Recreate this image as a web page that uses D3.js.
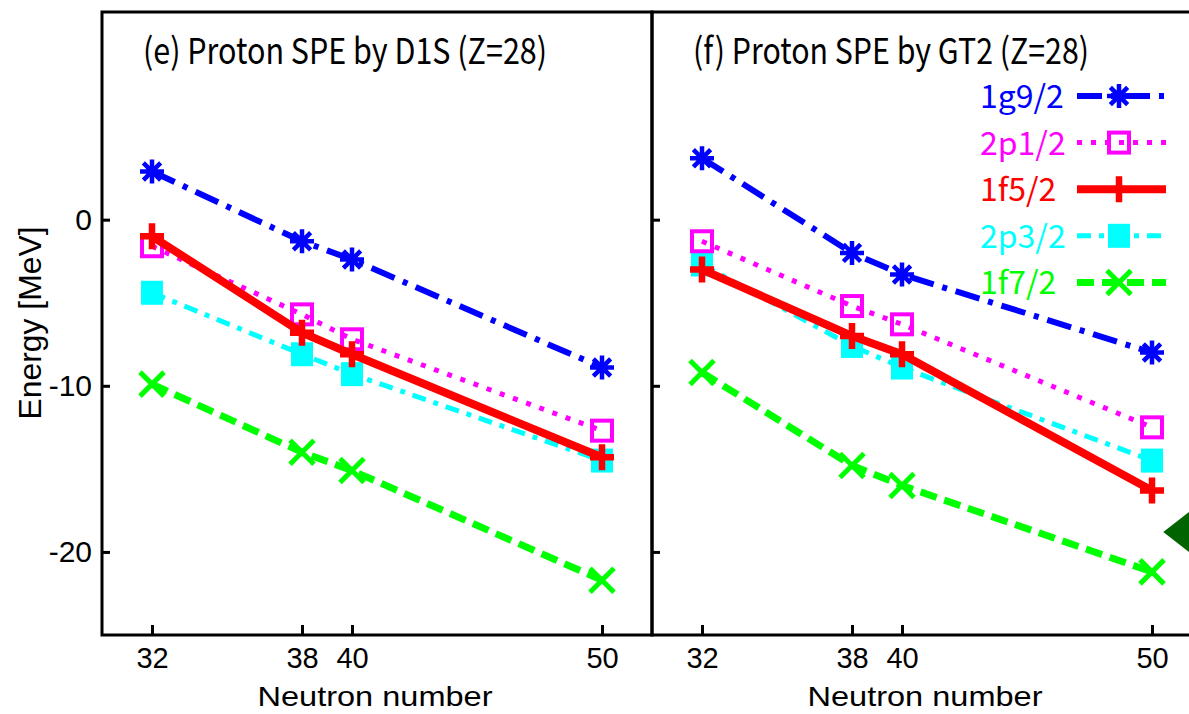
<!DOCTYPE html>
<html>
<head>
<meta charset="utf-8">
<script src="https://cdn.jsdelivr.net/npm/d3@7"></script>
<style>
  body { margin: 0; background: #fff; }
  text { font-family: "Noto Sans CJK JP", "Liberation Sans", sans-serif; }
  .ax text, .axlabel { font-family: "Liberation Sans", Arial, sans-serif; }
</style>
</head>
<body>
<script>
// neutron numbers on the x axis
var neutrons = [32, 38, 40, 50];
var yTicks = [-20, -10, 0];
var orbitals = ["1g9/2", "2p1/2", "1f5/2", "2p3/2", "1f7/2"];

// (e) D1S proton single-particle energies [MeV]
var d1s_1g9 = [2.9, -1.3, -2.4, -8.9];
var d1s_2p1 = [-1.6, -5.7, -7.2, -12.7];
var d1s_1f5 = [-1.0, -6.8, -8.1, -14.3];
var d1s_2p3 = [-4.4, -8.1, -9.3, -14.5];
var d1s_1f7 = [-9.9, -14.0, -15.1, -21.7];

// (f) GT2 proton single-particle energies [MeV]
var gt2_1g9 = [3.7, -2.0, -3.3, -8.0];
var gt2_2p1 = [-1.3, -5.2, -6.3, -12.5];
var gt2_1f5 = [-3.0, -7.0, -8.1, -16.3];
var gt2_2p3 = [-2.7, -7.6, -8.9, -14.5];
var gt2_1f7 = [-9.2, -14.8, -16.0, -21.2];

var titles = ["(e) Proton SPE by D1S (Z=28)", "(f) Proton SPE by GT2 (Z=28)"];

// styles per orbital
var styles = {
  "1g9/2": {color: "#0000ff", width: 6, dash: "25,9,5,9", marker: "asterisk"},
  "2p1/2": {color: "#ff00ff", width: 5, dash: "5,9", marker: "square"},
  "1f5/2": {color: "#ff0000", width: 8, dash: null, marker: "plus"},
  "2p3/2": {color: "#00ffff", width: 5, dash: "14,8,5,8", marker: "filled"},
  "1f7/2": {color: "#00ff00", width: 7, dash: "17,8", marker: "x"}
};

var W = 1189, H = 714;
var svg = d3.select("body").append("svg")
    .attr("width", W)
    .attr("height", H);

var y = d3.scaleLinear().domain([-25, 12.5]).range([635, 12]);

var panels = [
  {x0: 102, x1: 652, title: titles[0], tlen: 404, labels: true,
   series: {"1g9/2": d1s_1g9, "2p1/2": d1s_2p1, "1f5/2": d1s_1f5, "2p3/2": d1s_2p3, "1f7/2": d1s_1f7}},
  {x0: 652, x1: 1202, title: titles[1], tlen: 396, labels: false,
   series: {"1g9/2": gt2_1g9, "2p1/2": gt2_2p1, "1f5/2": gt2_1f5, "2p3/2": gt2_2p3, "1f7/2": gt2_1f7}}
];

// marker drawing
function drawMarker(g, type, cx, cy, color) {
  var r = 12;
  if (type == "asterisk") {
    var a = r * 0.72;
    g.append("path")
      .attr("d", "M" + cx + "," + (cy - r) + "V" + (cy + r) +
                 "M" + (cx - r) + "," + cy + "H" + (cx + r) +
                 "M" + (cx - a) + "," + (cy - a) + "L" + (cx + a) + "," + (cy + a) +
                 "M" + (cx - a) + "," + (cy + a) + "L" + (cx + a) + "," + (cy - a))
      .attr("stroke", color).attr("stroke-width", 4.5).attr("fill", "none");
  } else if (type == "plus") {
    g.append("path")
      .attr("d", "M" + cx + "," + (cy - r - 1) + "V" + (cy + r + 1) +
                 "M" + (cx - r) + "," + cy + "H" + (cx + r))
      .attr("stroke", color).attr("stroke-width", 6.5).attr("fill", "none");
  } else if (type == "x") {
    var b = r;
    g.append("path")
      .attr("d", "M" + (cx - b) + "," + (cy - b) + "L" + (cx + b) + "," + (cy + b) +
                 "M" + (cx - b) + "," + (cy + b) + "L" + (cx + b) + "," + (cy - b))
      .attr("stroke", color).attr("stroke-width", 5).attr("fill", "none");
  } else if (type == "square") {
    g.append("rect")
      .attr("x", cx - r + 2).attr("y", cy - r + 2)
      .attr("width", 2 * r - 4).attr("height", 2 * r - 4)
      .attr("stroke", color).attr("stroke-width", 4).attr("fill", "none");
  } else if (type == "filled") {
    g.append("rect")
      .attr("x", cx - 11).attr("y", cy - 12)
      .attr("width", 22).attr("height", 24)
      .attr("fill", color);
  }
}

var drawOrder = ["1f7/2", "2p3/2", "2p1/2", "1f5/2", "1g9/2"];

panels.forEach(function(p) {
  var x = d3.scaleLinear().domain([30, 52]).range([p.x0, p.x1]);
  var g = svg.append("g");

  // frame
  g.append("rect")
    .attr("x", p.x0).attr("y", y.range()[1])
    .attr("width", p.x1 - p.x0).attr("height", y.range()[0] - y.range()[1])
    .attr("fill", "none").attr("stroke", "#000").attr("stroke-width", 3);

  // x axis (ticks pointing inward)
  var xa = g.append("g")
    .attr("class", "ax")
    .attr("transform", "translate(0," + y.range()[0] + ")")
    .call(d3.axisBottom(x).tickValues(neutrons).tickSize(-10).tickPadding(12)
      .tickFormat(function(d) { return String(d); }));
  xa.select(".domain").remove();
  xa.selectAll("line").attr("stroke-width", 3);
  xa.selectAll("text").attr("font-size", 29).attr("fill", "#000");

  // y axis
  var ya = g.append("g")
    .attr("class", "ax")
    .attr("transform", "translate(" + p.x0 + ",0)")
    .call(d3.axisLeft(y).tickValues(yTicks).tickSize(-8).tickPadding(10)
      .tickFormat(function(d) { return String(d); }));
  ya.select(".domain").remove();
  ya.selectAll("line").attr("stroke-width", 3);
  ya.selectAll("text").attr("font-size", 30).attr("fill", "#000");
  if (!p.labels) ya.selectAll("text").remove();

  // x label
  g.append("text")
    .attr("class", "axlabel")
    .attr("x", (p.x0 + p.x1) / 2 - 2).attr("y", 706)
    .attr("text-anchor", "middle")
    .attr("font-size", 28)
    .attr("textLength", 235)
    .attr("lengthAdjust", "spacingAndGlyphs")
    .text("Neutron number");

  // title
  g.append("text")
    .attr("x", p.x0 + 41).attr("y", 64)
    .attr("font-size", 36)
    .attr("textLength", p.tlen)
    .attr("lengthAdjust", "spacingAndGlyphs")
    .text(p.title);

  // series
  var line = d3.line()
    .x(function(d, i) { return x(neutrons[i]); })
    .y(function(d) { return y(d); });

  drawOrder.forEach(function(k) {
    var s = styles[k];
    var vals = p.series[k];
    g.append("path")
      .datum(vals)
      .attr("d", line)
      .attr("fill", "none")
      .attr("stroke", s.color)
      .attr("stroke-width", s.width)
      .attr("stroke-dasharray", s.dash);
    vals.forEach(function(v, i) {
      drawMarker(g, s.marker, x(neutrons[i]), y(v), s.color);
    });
  });

  p.x = x;
});

// y label
svg.append("text")
  .attr("class", "axlabel")
  .attr("transform", "translate(41,323) rotate(-90)")
  .attr("text-anchor", "middle")
  .attr("font-size", 31)
  .attr("textLength", 193)
  .attr("lengthAdjust", "spacingAndGlyphs")
  .text("Energy [MeV]");

// legend in the right panel
var leg = svg.append("g");
orbitals.forEach(function(k, i) {
  var s = styles[k];
  var cy = 96 + i * 46.6;
  leg.append("text")
    .attr("x", 980).attr("y", cy + 12)
    .attr("font-size", 32)
    .attr("fill", s.color)
    .text(k);
  leg.append("line")
    .attr("x1", 1077).attr("x2", 1166)
    .attr("y1", cy).attr("y2", cy)
    .attr("stroke", s.color)
    .attr("stroke-width", s.width)
    .attr("stroke-dasharray", s.dash);
  drawMarker(leg, s.marker, 1119, cy, s.color);
});

// dark green pointer at the right edge
var xr = panels[1].x;
var tipX = xr(50.45), tipY = y(-18.8);
svg.append("path")
  .attr("d", "M" + tipX + "," + tipY + "L" + (tipX + 40) + "," + (tipY - 31) +
             "L" + (tipX + 40) + "," + (tipY + 31) + "Z")
  .attr("fill", "#006400");
</script>
</body>
</html>
